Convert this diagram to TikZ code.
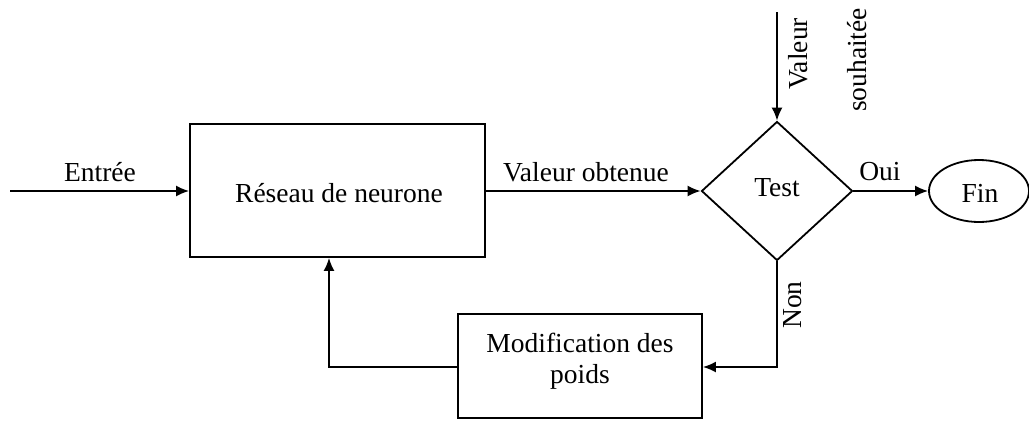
\documentclass[tikz,border=0pt]{standalone}
\usepackage{fontspec}
\setmainfont{Liberation Serif}
\usetikzlibrary{shapes.geometric,arrows.meta}
\begin{document}
\begin{tikzpicture}[x=1pt,y=-1pt,
  font=\fontsize{27.5}{31}\selectfont,
  line width=1.8pt,
  box/.style={draw, rectangle, inner sep=0pt},
  lbl/.style={inner sep=0pt},
  arr/.style={-{Latex[length=13pt,width=11pt]}}]
\useasboundingbox (0,0) rectangle (1029,421);
\node[box, minimum width=295, minimum height=133] (res) at (337.5,190.5) {};
\node[lbl] at (339,193) {Réseau de neurone};
\node[draw, diamond, minimum width=151, minimum height=139, inner sep=0pt] (test) at (777,191) {};
\node[lbl] at (777,188) {Test};
\node[draw, ellipse, minimum width=100, minimum height=62, inner sep=0pt] (fin) at (979,191) {};
\node[lbl] at (980,193) {Fin};
\node[box, minimum width=244, minimum height=104, align=center] (mod) at (580,366) {};
\node[lbl, align=center] at (580,361) {Modification des\\poids};
\coordinate (in) at (10,191);
\coordinate (top) at (777,12);
\coordinate (c1) at (777,367);
\coordinate (c2) at (329,367);
\draw[arr] (in) -- (res.west |- in);
\node[lbl] at (100,172) {Entrée};
\draw[arr] (res.east |- test.west) -- (test.west);
\node[lbl] at (586,172) {Valeur obtenue};
\draw[arr] (top) -- (test.north);
\node[lbl, rotate=90] at (798,54) {Valeur};
\node[lbl, rotate=90] at (857,60) {souhaitée};
\draw[arr] (test.east) -- (fin.west);
\node[lbl] at (880,172) {Oui};
\draw[arr] (test.south) -- (c1) -- (mod.east |- c1);
\node[lbl, rotate=90] at (793,305) {Non};
\draw[arr] (mod.west |- c2) -- (c2) -- (res.south -| c2);
\end{tikzpicture}
\end{document}
